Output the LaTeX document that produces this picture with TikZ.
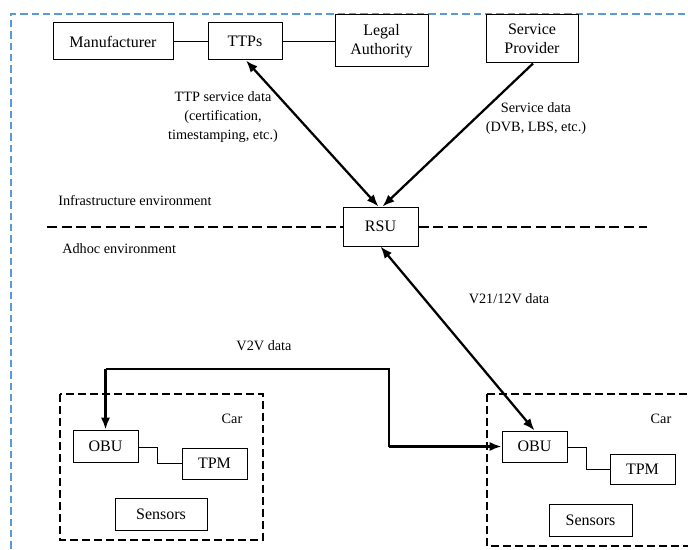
\documentclass[tikz,border=0pt]{standalone}
\usepackage{fontspec}
\setmainfont{Liberation Serif}
\usetikzlibrary{arrows.meta,calc}
\definecolor{frameblue}{HTML}{5B9BD5}
\begin{document}
\begin{tikzpicture}[x=0.75pt,y=-0.75pt,
  box/.style={draw,line width=0.75pt,inner sep=0pt,align=center,font=\fontsize{12}{14.5}\selectfont},
  sz/.style 2 args={minimum width=0.75*#1 pt,minimum height=0.75*#2 pt},
  lbl/.style={inner sep=0pt,align=center,font=\fontsize{10.7}{14.3}\selectfont},
  thinlink/.style={line width=0.75pt},
  bigarrow/.style={line width=1.7pt,-{Latex[length=9pt,width=7pt]}},
  bigdarrow/.style={line width=1.7pt,{Latex[length=9pt,width=7pt]}-{Latex[length=9pt,width=7pt]}},
  sepline/.style={line width=1.5pt,dash pattern=on 7.5pt off 3.5pt},
  carbox/.style={draw,line width=1.5pt,dash pattern=on 6pt off 3pt}]
\useasboundingbox (0,0) rectangle (688,549);
\clip (0,0) rectangle (688,549);
\fill[white] (0,0) rectangle (688,549);
% outer blue frame
\draw[frameblue,line width=1.5pt,dash pattern=on 5.5pt off 3pt] (11,560) -- (11,14) -- (700,14);
% top row
\node[box,sz={120}{37}] (man) at (113,41.5) {Manufacturer};
\node[box,sz={74}{37}] (ttp) at (245,41.5) {TTPs};
\node[box,sz={93}{52}] (leg) at (381.5,41) {Legal\\Authority};
\node[box,sz={92}{48}] (sp) at (532,39) {Service\\Provider};
\draw[thinlink] (man) -- (ttp);
\draw[thinlink] (ttp) -- (ttp -| leg.west);
% RSU
\node[box,sz={75}{39}] (rsu) at (380.5,226.5) {RSU};
\coordinate (sepL) at (47,227);
\coordinate (sepR) at (647,227);
\draw[sepline] (sepL) -- (sepL -| rsu.west);
\draw[sepline] (rsu.east |- sepR) -- (sepR);
\node[lbl,anchor=west] (infra) at (58,201) {Infrastructure environment};
\node[lbl,anchor=west] (adhoc) at (62,249) {Adhoc environment};
% arrows to RSU
\draw[bigdarrow] ($(ttp.south)+(1,0)$) -- ($(rsu.north)+(-2,0)$);
\draw[bigarrow] ($(sp.south)+(1,0)$) -- ($(rsu.north)+(2,0)$);
\node[lbl] (ttplbl) at (223,117) {TTP service data\\(certification,\\timestamping, etc.)};
\node[lbl] (splbl) at (536,118.5) {Service data\\(DVB, LBS, etc.)};
% cars
\draw[carbox] (60,394) rectangle (263,540);
\draw[carbox] (487,394) rectangle (705,546);
\node[lbl] (carL) at (232,419) {Car};
\node[lbl] (carR) at (661,419) {Car};
\node[box,sz={65}{32}] (obuL) at (105.5,446) {OBU};
\node[box,sz={65}{31}] (tpmL) at (214.5,463.5) {TPM};
\node[box,sz={92}{32}] (senL) at (161,514) {Sensors};
\node[box,sz={65}{31}] (obuR) at (534.5,446.5) {OBU};
\node[box,sz={65}{30}] (tpmR) at (642.5,469) {TPM};
\node[box,sz={83}{32}] (senR) at (590.5,520) {Sensors};
\coordinate (kL) at (157,447);
\coordinate (kR) at (586,447);
\draw[thinlink] (obuL.east |- kL) -- (kL) |- (tpmL.west);
\draw[thinlink] (obuR.east |- kR) -- (kR) |- (tpmR.west);
% RSU to OBU
\draw[bigdarrow] (rsu.south) -- (obuR.north);
\node[lbl] (v2ilbl) at (509,299) {V21/12V data};
% V2V
\coordinate (v1) at (105.5,369);
\coordinate (v2) at (389,369);
\coordinate (v3) at (389,446.5);
\draw[thinlink,line width=1pt] (v1) -- (v2) -- (v3);
\draw[bigarrow] (v1) -- (obuL.north);
\draw[bigarrow] (v3) -- (obuR.west);
\node[lbl] (v2vlbl) at (264,346) {V2V data};
\end{tikzpicture}
\end{document}
